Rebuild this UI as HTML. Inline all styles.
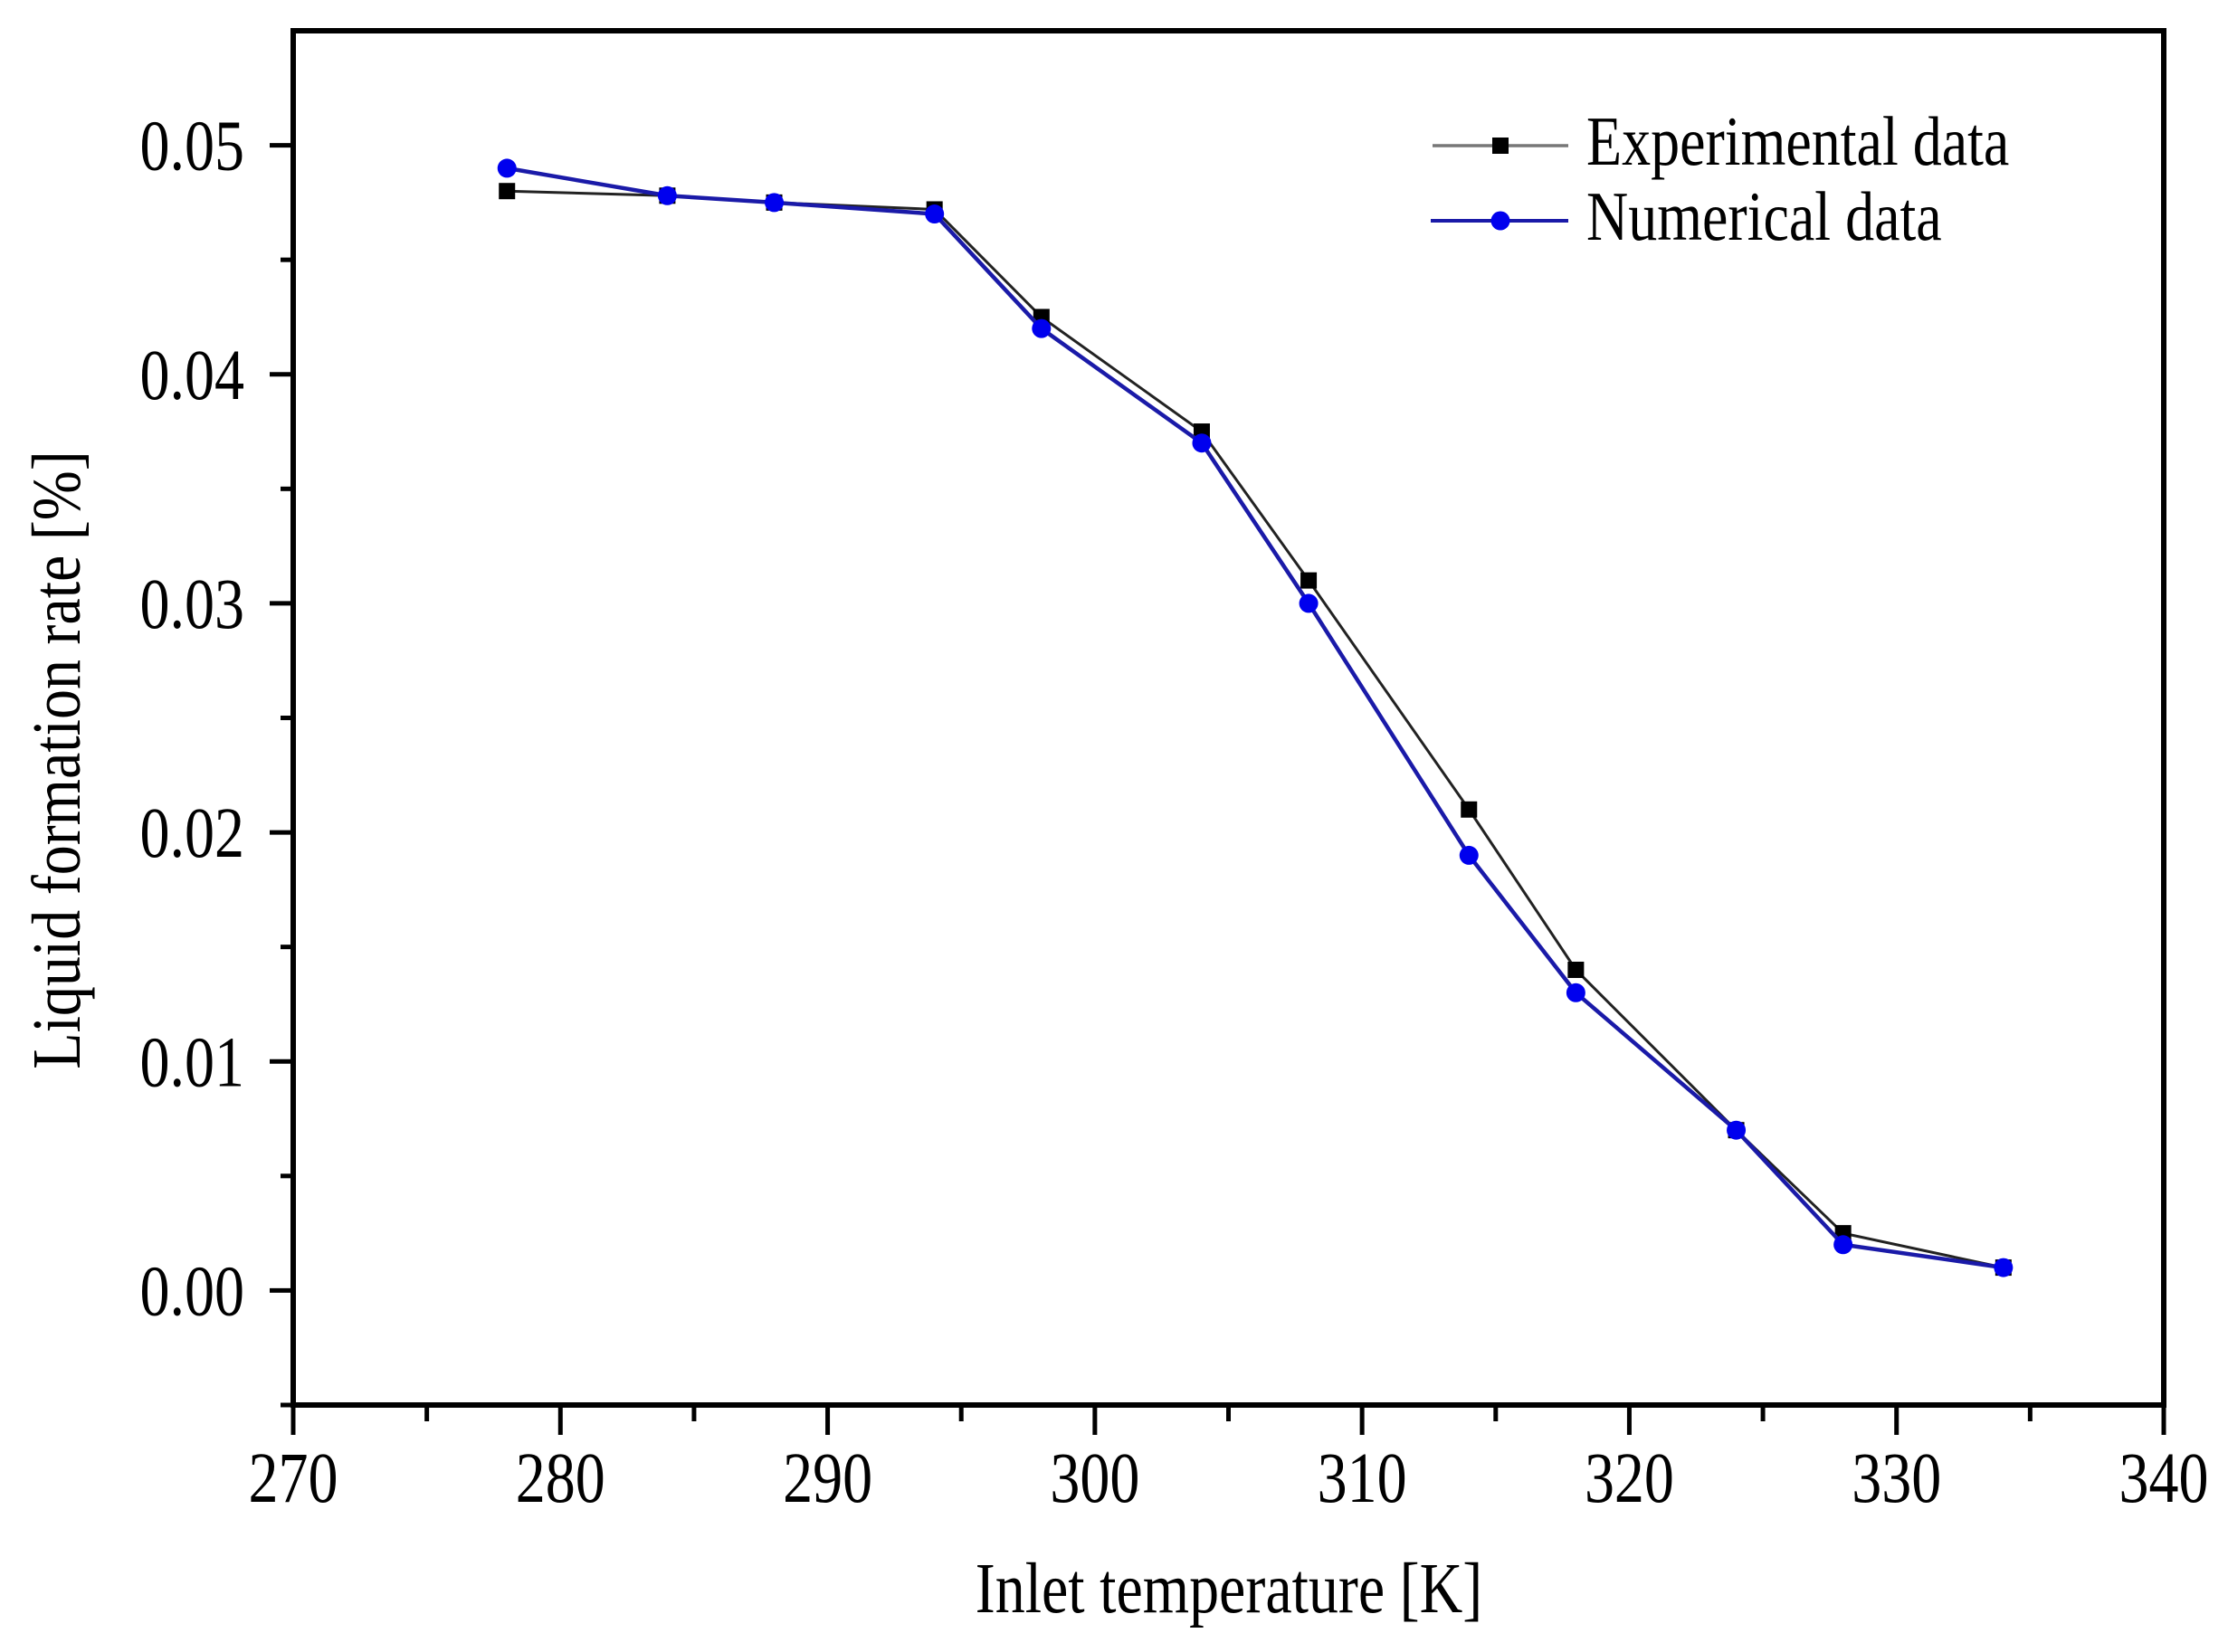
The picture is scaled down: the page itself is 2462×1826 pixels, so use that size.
<!DOCTYPE html>
<html><head><meta charset="utf-8"><style>
html,body{margin:0;padding:0;background:#fff;}
svg{display:block;font-family:"Liberation Serif",serif;}
</style></head><body>
<svg id="chart" width="2462" height="1826" viewBox="0 0 2462 1826"></svg>
<script>
const xValues=[278,284,288,294,298,304,308,314,318,324,328,334];
const experimental=[0.048,0.0478,0.0475,0.0472,0.0425,0.0375,0.031,0.021,0.014,0.007,0.0025,0.001];
const numerical=[0.049,0.0478,0.0475,0.047,0.042,0.037,0.030,0.019,0.013,0.007,0.002,0.001];
const xTicks=[270,280,290,300,310,320,330,340];
const yTicks=[0.00,0.01,0.02,0.03,0.04,0.05];
const yTickLabels=["0.00","0.01","0.02","0.03","0.04","0.05"];

const NS="http://www.w3.org/2000/svg";
const svg=document.getElementById('chart');
const L=324,R=2391,T=34,B=1553;
const X=v=>L+(v-270)/70*(R-L);
const Y=v=>B-(v+0.005)/0.06*(B-T);
function mk(tag,attrs,parent){const e=document.createElementNS(NS,tag);for(const k in attrs)e.setAttribute(k,attrs[k]);(parent||svg).appendChild(e);return e;}
function txt(x,y,size,anchor,str,parent,sy){
  const e=mk('text',{x:0,y:0,'font-size':size,'text-anchor':anchor,transform:'translate('+x+','+y+') scale(1,'+(sy||1.2)+')'},parent);
  e.textContent=str;return e;
}

// frame
const frame=mk('rect',{x:L,y:T,width:R-L,height:B-T,fill:'none',stroke:'#000','stroke-width':6});



xTicks.forEach((t,i)=>{
  const ln=mk('line',{x1:X(t),x2:X(t),y1:B,y2:B+33,stroke:'#000','stroke-width':5});
  
  
  const tx=txt(X(t),1660,66,'middle',String(t));
  
  
  if(i<xTicks.length-1){
    const m=mk('line',{x1:X(t+5),x2:X(t+5),y1:B,y2:B+18,stroke:'#000','stroke-width':5});
    
    
  }
});
yTicks.forEach((t,i)=>{
  const ln=mk('line',{x1:L-26,x2:L,y1:Y(t),y2:Y(t),stroke:'#000','stroke-width':5});
  
  
  const tx=txt(270,Y(t)+27,66,'end',yTickLabels[i]);
  
  
});
[-0.005,0.005,0.015,0.025,0.035,0.045].forEach(t=>{
  const m=mk('line',{x1:L-14,x2:L,y1:Y(t),y2:Y(t),stroke:'#000','stroke-width':5});
  
  
});

const xt=txt(1358,1782,66,'middle','Inlet temperature [K]');


const yt=mk('text',{x:0,y:0,'font-size':66,'text-anchor':'middle',transform:'translate(88,840) rotate(-90) scale(1,1.15)'});
yt.textContent='Liquid formation rate [%]';



function pts(arr){return xValues.map((x,i)=>X(x)+','+Y(arr[i])).join(' ');}
const le=mk('polyline',{points:pts(experimental),fill:'none',stroke:'#222','stroke-width':3});


experimental.forEach((v,i)=>{
  const r=mk('rect',{x:X(xValues[i])-9,y:Y(v)-9,width:18,height:18,fill:'#000'});
  
  
});
const ln2=mk('polyline',{points:pts(numerical),fill:'none',stroke:'#1a1aa8','stroke-width':4.5});


numerical.forEach((v,i)=>{
  const c=mk('circle',{cx:X(xValues[i]),cy:Y(v),r:10.5,fill:'#0000ee'});
  
  
});

const g=mk('g',{});


const l1=mk('line',{x1:1583,x2:1733,y1:161,y2:161,stroke:'#777','stroke-width':3.5},g);


const s1=mk('rect',{x:1649,y:152,width:18,height:18,fill:'#000'},g);


const t1=txt(1753,182,64,'start','Experimental data',g);


const l2=mk('line',{x1:1581,x2:1733,y1:244,y2:244,stroke:'#1a1aa8','stroke-width':4},g);


const c2=mk('circle',{cx:1658,cy:244,r:10.5,fill:'#0000ee'},g);


const t2=txt(1753,265,64,'start','Numerical data',g);


</script>
</body></html>
